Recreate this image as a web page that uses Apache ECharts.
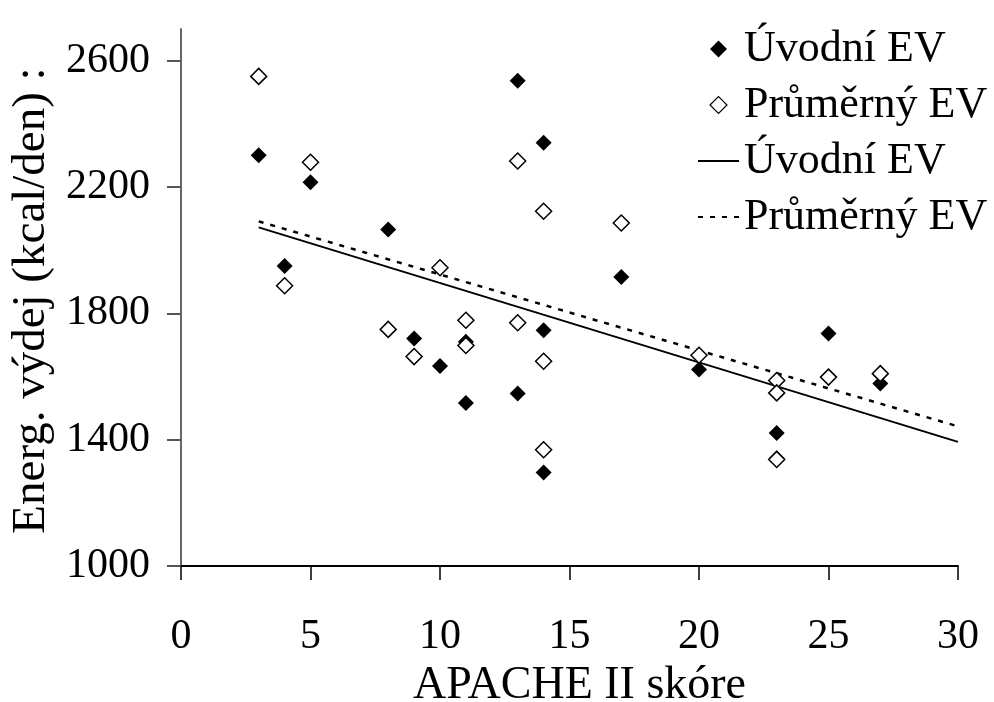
<!DOCTYPE html>
<html>
<head>
<meta charset="utf-8">
<script src="https://cdn.jsdelivr.net/npm/echarts@6/dist/echarts.min.js"></script>
<style>
  html, body { margin: 0; padding: 0; background: #fff; }
  #chart { width: 994px; height: 702px; }
</style>
</head>
<body>
<div id="chart"></div>
<script>
// APACHE II score (x) vs energy expenditure (y, kcal/den)
const uvodniX = [3, 4, 5, 8, 9, 10, 11, 11, 13, 13, 14, 14, 14, 17, 20, 23, 23, 25, 27];
const uvodniY = [2300, 1950, 2215, 2065, 1720, 1633, 1710, 1516, 2536, 1546, 2340, 1746, 1296, 1915, 1622, 1421, 1341, 1736, 1578];
const prumernyX = [3, 4, 5, 8, 9, 10, 11, 11, 13, 13, 14, 14, 14, 17, 20, 23, 23, 23, 25, 27];
const prumernyY = [2550, 1887, 2278, 1749, 1663, 1944, 1778, 1698, 2282, 1770, 2123, 1648, 1368, 2086, 1667, 1587, 1548, 1337, 1598, 1609];
// trend lines (endpoints)
const trendX = [3, 30];
const trendUvodniY = [2072, 1393];
const trendPrumernyY = [2091, 1442];
const yTicks = [1000, 1400, 1800, 2200, 2600];
const xTicks = [0, 5, 10, 15, 20, 25, 30];
const seriesNames = ['Úvodní EV', 'Průměrný EV'];

const FONT = '"Liberation Serif", "Times New Roman", serif';
const zip = (xs, ys) => xs.map((x, i) => [x, ys[i]]);
const DIAMOND = 'path://M0,1L1,0L2,1L1,2Z';

const chart = echarts.init(document.getElementById('chart'), null, { renderer: 'canvas' });
chart.setOption({
  animation: false,
  backgroundColor: '#ffffff',
  grid: { left: 181, right: 36, top: 29, bottom: 136, containLabel: false, outerBoundsMode: 'none' },
  xAxis: {
    type: 'value', min: 0, max: 30, interval: 5,
    name: 'APACHE II skóre', nameLocation: 'middle', nameGap: 97,
    nameTextStyle: { fontFamily: FONT, fontSize: 46, color: '#000', padding: [0, 0, 0, 20] },
    axisLine: { lineStyle: { color: '#000', width: 2 } },
    axisTick: { show: true, inside: false, length: 14, lineStyle: { color: '#000', width: 1.5 }, customValues: xTicks },
    axisLabel: { fontFamily: FONT, fontSize: 42, color: '#000', margin: 50, customValues: xTicks, formatter: v => String(v) },
    splitLine: { show: false }
  },
  yAxis: {
    type: 'value', min: 1000, max: 2700, interval: 400,
    name: 'Energ. výdej (kcal/den) :', nameLocation: 'middle', nameGap: 110,
    nameTextStyle: { fontFamily: FONT, fontSize: 47, color: '#000', padding: [0, 6, 0, 0] },
    axisLine: { show: true, lineStyle: { color: '#666', width: 2 } },
    axisTick: { show: true, inside: false, length: 14, lineStyle: { color: '#555', width: 2 }, customValues: yTicks },
    axisLabel: { fontFamily: FONT, fontSize: 42, color: '#000', margin: 31, customValues: yTicks, formatter: v => String(v) },
    splitLine: { show: false }
  },
  legend: {
    orient: 'vertical', left: 692, top: 22,
    itemWidth: 41, itemHeight: 17, itemGap: 12,
    symbolKeepAspect: true,
    textStyle: { fontFamily: FONT, fontSize: 44, color: '#000' },
    data: [
      { name: seriesNames[0], icon: DIAMOND },
      { name: seriesNames[1], icon: DIAMOND, itemStyle: { borderWidth: 1.2 } },
      { name: seriesNames[0] + ' ', itemStyle: { opacity: 0 } },
      { name: seriesNames[1] + ' ', itemStyle: { opacity: 0 } }
    ]
  },
  series: [
    {
      name: seriesNames[0], type: 'scatter', symbol: 'diamond', symbolSize: 16,
      itemStyle: { color: '#000', opacity: 1 },
      data: zip(uvodniX, uvodniY), z: 3
    },
    {
      name: seriesNames[1], type: 'scatter', symbol: 'diamond', symbolSize: 16,
      itemStyle: { color: '#fff', borderColor: '#000', borderWidth: 1.5, opacity: 1 },
      data: zip(prumernyX, prumernyY), z: 4
    },
    {
      name: seriesNames[0] + ' ', type: 'line', symbol: 'none', showSymbol: false,
      lineStyle: { color: '#000', width: 2, type: 'solid' },
      itemStyle: { color: '#000' },
      data: zip(trendX, trendUvodniY), z: 2
    },
    {
      name: seriesNames[1] + ' ', type: 'line', symbol: 'none', showSymbol: false,
      lineStyle: { color: '#000', width: 2.5, type: [5, 7] },
      itemStyle: { color: '#000' },
      data: zip(trendX, trendPrumernyY), z: 2
    }
  ]
});
</script>
</body>
</html>
